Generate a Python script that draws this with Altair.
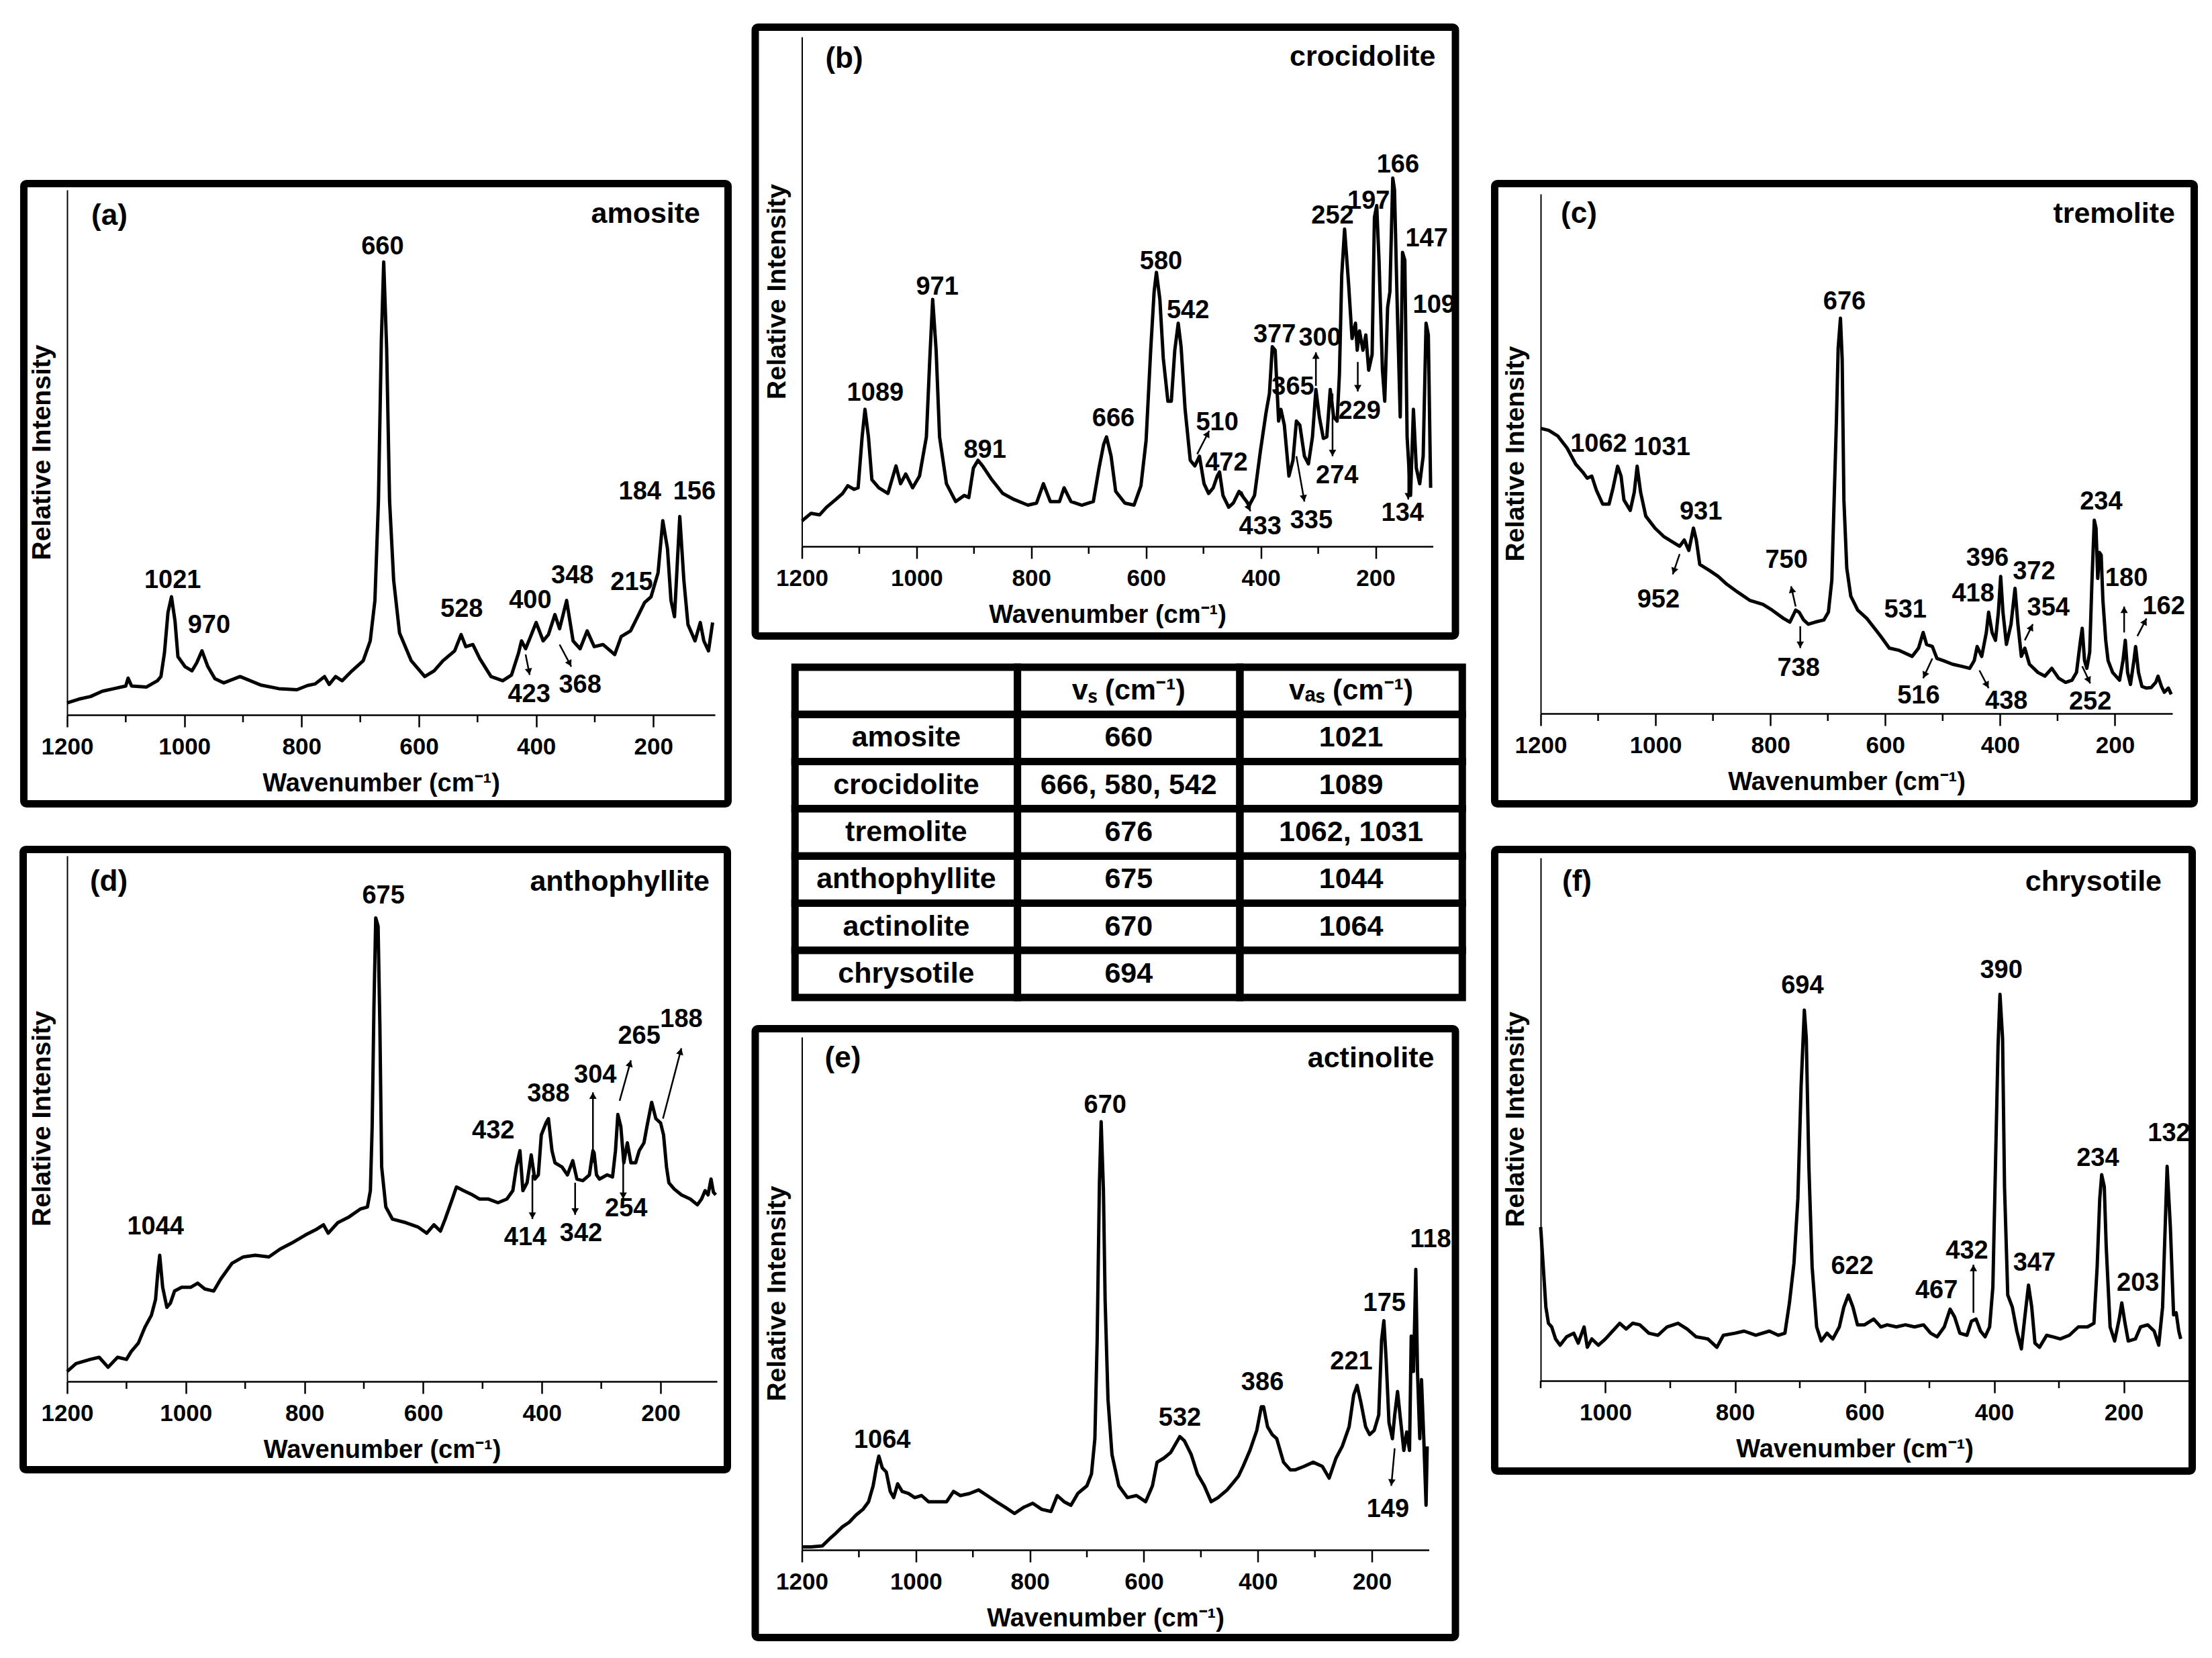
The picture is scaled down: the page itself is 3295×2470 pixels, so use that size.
import math
import altair as alt
import pandas as pd

FONT = "Liberation Sans, Arial, Helvetica, sans-serif"

# ---------------- spectra (wavenumber cm-1, relative intensity 0-100) ----------------
A_SPEC = [(1200,2.3),(1180,3.0),(1160,3.5),(1140,4.5),(1120,5.0),(1100,5.5),(1096,7.0),(1090,5.5),(1065,5.3),(1046,6.5),
          (1040,7.3),(1034,11.8),(1028,19.5),(1022,22.5),(1016,17.9),(1011,11.1),(999,9.2),(987,8.4),(979,9.9),(970,12.2),
          (960,9.2),(948,6.9),(933,6.1),(905,7.3),(870,5.7),(839,5.0),(808,4.8),(790,5.6),(777,5.9),(761,7.3),
          (753,5.8),(742,7.3),(731,6.5),(714,8.4),(695,10.3),(683,14.1),(675,21.8),(669,40.8),(664,71.4),(660,86.3),
          (655,69.8),(650,40.8),(643,25.6),(633,15.6),(613,10.3),(590,7.3),(574,8.4),(559,10.3),(539,12.2),(528,15.3),
          (520,13.0),(508,13.4),(496,10.7),(477,7.3),(457,6.5),(442,7.6),(430,11.8),(425,14.1),(418,12.6),(411,14.5),
          (400,17.6),(388,14.1),(379,15.3),(368,19.1),(360,16.4),(348,21.8),(337,14.1),(325,12.6),(313,16.0),(301,13.0),
          (286,13.4),(266,11.5),(255,14.9),(239,16.0),(227,18.7),(215,21.4),(204,22.5),(192,27.1),(184,37.0),(176,31.7),
          (170,21.8),(164,18.7),(159,29.4),(155,37.8),(148,25.6),(141,17.2),(129,14.1),(120,17.6),(114,14.1),(106,12.2),(99,17.6)]

B_SPEC = [(1200,5.0),(1184,6.5),(1169,6.2),(1157,7.7),(1141,9.2),(1129,10.4),(1120,11.9),(1109,11.2),(1102,11.5),(1095,21.5),
          (1090,26.9),(1084,21.5),(1078,13.1),(1066,11.5),(1050,10.4),(1036,15.8),(1028,12.3),(1019,14.2),(1007,11.5),(995,13.8),
          (983,21.5),(977,36.9),(972,48.5),(966,38.5),(960,21.5),(948,12.3),(932,8.8),(917,10.0),(909,9.6),(901,15.4),
          (893,16.9),(885,15.8),(869,13.1),(850,10.4),(830,9.2),(806,8.1),(791,8.5),(779,12.3),(767,8.8),(751,8.8),
          (743,11.5),(731,8.8),(712,8.1),(692,8.8),(682,15.4),(674,20.0),(669,21.5),(661,17.7),(653,10.8),(637,8.5),
          (621,8.1),(609,11.9),(600,20.8),(592,38.5),(586,50.0),(582,53.8),(576,48.5),(570,36.9),(562,28.5),(556,28.5),
          (550,38.5),(544,43.8),(539,39.2),(532,26.9),(523,16.9),(515,15.8),(507,17.7),(499,12.3),(491,10.4),(483,11.5),
          (476,13.8),(472,14.6),(466,10.0),(456,7.7),(448,8.5),(438,10.8),(430,9.6),(420,8.1),(411,10.0),(401,18.5),
          (391,26.2),(385,30.0),(380,39.2),(375,38.5),(369,24.6),(365,26.9),(359,23.8),(351,13.8),(344,16.9),(338,24.6),
          (332,23.8),(324,17.7),(317,16.2),(310,21.5),(304,30.8),(298,25.4),(291,21.2),(285,21.5),(279,30.8),(273,25.4),
          (267,24.6),(263,33.8),(259,53.1),(254,62.3),(247,51.5),(241,40.8),(235,43.8),(232,38.5),(228,42.3),(222,38.5),
          (217,41.5),(212,34.6),(206,37.7),(202,64.6),(198,66.9),(194,56.2),(188,34.6),(184,28.5),(179,46.9),(175,50.0),
          (170,72.3),(167,70.0),(162,46.2),(157,25.4),(153,57.7),(149,56.2),(145,21.5),(139,10.0),(134,26.9),(129,15.4),
          (123,12.3),(117,17.7),(112,43.8),(108,41.5),(104,11.5)]

C_SPEC = [(1200,54.9),(1186,54.5),(1170,53.4),(1154,51.1),(1139,48.0),(1127,46.5),(1119,45.3),(1111,45.7),(1103,43.0),(1092,40.3),
          (1081,40.3),(1074,43.4),(1066,47.6),(1060,45.7),(1055,41.1),(1044,39.1),(1037,42.6),(1032,47.6),(1026,42.6),(1017,38.0),
          (1001,35.7),(986,34.1),(970,33.0),(958,32.2),(950,33.4),(942,31.4),(934,35.7),(929,33.4),(923,28.7),(907,27.6),
          (891,26.4),(876,24.9),(856,23.3),(836,21.8),(813,21.0),(797,19.9),(777,18.3),(766,17.6),(756,19.9),(750,19.5),
          (742,18.0),(734,17.2),(722,17.6),(707,18.0),(699,19.5),(693,25.7),(689,41.1),(685,56.5),(682,70.3),(678,76.1),
          (675,68.2),(672,41.1),(667,28.0),(660,22.6),(648,19.9),(632,18.3),(608,14.9),(593,12.6),(577,12.2),(553,11.0),
          (542,12.6),(534,15.6),(528,13.3),(518,12.9),(510,10.6),(499,10.2),(483,9.5),(467,9.1),(453,8.7),(445,10.2),
          (440,12.9),(432,11.0),(424,15.6),(420,19.5),(414,15.6),(408,14.1),(403,19.5),(399,26.4),(395,19.5),(389,13.3),
          (381,17.2),(374,24.1),(369,17.2),(363,11.0),(357,12.6),(349,9.5),(334,7.9),(322,7.2),(310,8.7),(298,6.8),
          (286,6.0),(275,6.4),(267,7.9),(260,14.1),(257,16.4),(253,10.2),(249,8.7),(244,11.8),(240,25.7),(236,37.2),
          (233,35.7),(230,26.0),(227,31.0),(224,30.5),(221,21.8),(216,14.0),(212,10.2),(204,7.9),(192,6.4),(186,10.2),
          (182,14.1),(178,7.9),(173,5.6),(167,10.2),(164,12.9),(159,7.9),(153,5.2),(145,4.9),(137,5.0),(129,6.0),
          (125,7.2),(119,5.2),(114,4.1),(107,4.9),(102,3.7)]

D_SPEC = [(1200,1.9),(1185,3.4),(1161,4.2),(1146,4.6),(1131,2.7),(1115,4.6),(1100,4.2),(1092,5.7),(1080,7.3),(1069,10.3),
          (1058,12.6),(1051,15.6),(1047,21.0),(1044,24.0),(1039,17.9),(1032,14.1),(1026,14.9),(1019,17.2),(1007,17.9),(992,17.9),
          (980,18.7),(968,17.6),(953,17.2),(941,19.5),(922,22.5),(903,23.7),(883,24.0),(860,23.7),(841,25.2),(822,26.3),
          (798,27.9),(779,29.0),(768,29.8),(760,28.2),(744,30.2),(725,31.3),(706,32.8),(694,33.2),(689,36.3),(686,48.5),
          (683,71.4),(680,88.2),(676,86.6),(673,67.6),(670,40.8),(663,33.2),(652,30.9),(629,30.2),(609,29.4),(594,28.2),
          (582,29.8),(571,28.6),(563,30.9),(551,34.7),(544,37.0),(532,36.3),(517,35.5),(505,34.7),(490,34.7),(474,34.0),
          (459,34.7),(449,36.3),(443,40.8),(437,43.9),(432,36.3),(425,37.8),(418,43.1),(412,38.5),(406,39.3),(401,46.9),
          (393,49.2),(389,50.0),(383,43.9),(378,41.6),(366,40.8),(357,39.3),(348,42.0),(341,38.5),(331,38.2),(320,39.3),
          (314,43.9),(312,43.5),(308,39.3),(303,38.5),(290,39.3),(281,38.9),(276,43.9),(272,50.8),(267,48.5),(262,41.6),
          (256,45.4),(250,41.6),(242,41.6),(236,43.9),(228,45.4),(223,48.5),(215,53.1),(208,50.0),(200,49.2),(195,46.9),
          (190,40.8),(186,37.8),(177,36.6),(165,35.5),(150,34.7),(138,33.6),(131,34.7),(125,36.3),(120,35.5),(115,38.5),
          (111,36.0),(107,35.5)]

E_SPEC = [(1200,0.6),(1184,0.6),(1164,0.8),(1152,2.1),(1140,3.3),(1129,4.5),(1117,5.4),(1105,6.8),(1093,7.9),(1083,9.4),
          (1075,12.5),(1069,16.3),(1065,18.3),(1059,16.0),(1052,15.2),(1045,11.4),(1039,10.2),(1032,12.9),(1024,11.4),(1013,11.0),
          (1002,10.2),(990,10.6),(978,9.4),(962,9.4),(946,9.4),(934,11.4),(922,10.6),(906,11.0),(890,11.7),(875,10.6),
          (859,9.4),(843,8.3),(827,7.1),(811,8.3),(795,9.1),(779,7.9),(763,7.5),(752,10.6),(740,9.4),(728,8.7),
          (716,11.0),(700,12.5),(692,14.8),(686,21.7),(682,40.9),(678,71.6),(675,83.5),(671,70.1),(668,48.6),(663,29.4),
          (656,18.6),(644,12.5),(629,10.2),(613,10.6),(597,9.4),(585,12.5),(577,17.1),(565,17.9),(553,19.0),(537,22.1),
          (529,21.3),(517,18.6),(506,14.8),(494,12.5),(482,9.4),(470,10.2),(454,11.7),(442,13.3),(434,14.4),(426,16.3),
          (414,19.4),(402,23.3),(394,27.9),(390,27.9),(383,24.0),(375,22.5),(367,21.7),(355,17.1),(343,15.6),(335,15.6),
          (319,16.3),(303,17.1),(287,16.3),(275,14.0),(263,17.9),(252,20.2),(240,24.0),(232,30.2),(226,32.1),(219,28.6),
          (211,24.0),(204,22.5),(196,23.3),(188,26.3),(183,40.9),(179,44.7),(175,37.1),(170,24.8),(164,21.7),(160,26.3),
          (155,30.9),(150,25.6),(144,19.4),(139,23.0),(134,19.4),(131,41.7),(127,34.8),(123,54.7),(120,34.8),(116,21.7),
          (113,33.2),(109,21.7),(105,8.7),(103,20.2)]

F_SPEC = [(1100,29.4),(1096,21.8),(1092,14.1),(1088,11.0),(1083,10.3),(1077,8.0),(1070,6.8),(1060,8.4),(1049,9.1),(1042,7.2),
          (1033,10.3),(1028,6.4),(1021,8.0),(1011,6.8),(1000,8.0),(989,9.5),(978,11.0),(968,9.9),(958,11.0),(947,10.7),
          (933,9.1),(919,8.7),(905,10.3),(888,11.0),(874,9.9),(860,8.4),(842,8.0),(828,6.4),(818,8.7),(800,9.1),
          (786,9.5),(768,8.7),(747,9.5),(733,8.7),(723,9.1),(716,14.9),(709,22.5),(703,34.8),(698,56.3),(693,70.9),
          (690,65.5),(686,41.0),(681,21.8),(674,10.3),(667,7.6),(658,9.1),(649,8.0),(639,10.3),(632,14.1),(625,16.4),
          (618,14.1),(611,10.7),(600,10.7),(586,11.8),(575,10.3),(565,10.7),(551,10.3),(537,10.7),(523,10.3),(509,10.7),
          (498,9.1),(488,8.4),(477,10.3),(468,13.7),(461,12.2),(453,9.1),(442,8.7),(435,11.4),(428,11.8),(421,9.5),
          (414,8.4),(407,10.3),(402,17.9),(398,41.0),(394,64.0),(391,73.9),(387,65.5),(384,37.1),(379,16.4),(372,14.1),
          (365,9.5),(358,6.1),(353,11.8),(347,18.3),(342,14.1),(337,7.2),(330,6.4),(319,8.7),(309,8.4),(298,8.0),
          (284,8.7),(270,10.3),(256,10.3),(246,11.0),(241,21.8),(237,34.8),(234,39.4),(230,37.1),(227,25.6),(221,10.3),
          (214,7.6),(207,11.8),(203,14.9),(198,11.0),(193,7.6),(182,8.0),(174,10.3),(163,10.7),(153,9.5),(146,6.8),
          (140,14.1),(135,33.3),(133,41.0),(128,29.4),(123,12.6),(119,13.0),(115,9.5),(112,8.0)]

# ---------------- peak labels: (text, wavenumber of label centre, intensity of label centre) ----------------
A_LABELS = [("660",662,89.1),("1021",1020,25.6),("970",958,17.0),("528",527,20.1),("400",410,21.8),("348",338,26.5),
            ("215",237,25.2),("184",223,42.5),("156",130,42.5),("423",412,3.8),("368",325,5.6)]
B_LABELS = [("1089",1072,30.0),("971",964,50.9),("891",881,18.8),("666",657,25.0),("580",574,55.9),("542",527,46.2),
            ("510",476,24.2),("472",460,16.3),("433",401,3.8),("377",376,41.5),("365",344,31.2),("300",297,40.8),
            ("335",312,5.0),("274",267,13.8),("252",275,64.8),("197",212,67.7),("166",161,74.8),("147",111,60.4),
            ("109",98,47.3),("229",228,26.5),("134",153,6.5)]
C_LABELS = [("676",671,79.2),("1062",1099,51.8),("1031",989,51.1),("931",921,38.8),("952",995,21.8),("750",772,29.5),
            ("738",751,8.6),("531",565,19.9),("516",542,3.3),("418",447,23.0),("396",422,29.9),("372",341,27.3),
            ("354",316,20.3),("438",389,2.3),("234",224,40.7),("180",180,26.0),("162",115,20.6),("252",243,2.2)]
D_LABELS = [("675",667,92.4),("1044",1051,29.4),("432",482,47.6),("388",389,54.6),("304",310,58.2),("265",236,65.6),
            ("188",165,68.9),("414",428,27.3),("342",334,28.1),("254",258,32.8)]
E_LABELS = [("670",668,86.6),("1064",1059,21.3),("532",537,25.6),("386",392,32.6),("221",236,36.7),("175",178,48.0),
            ("118",97,60.5),("149",172,7.9)]
F_LABELS = [("694",696,75.5),("390",389,78.4),("622",619,21.8),("467",489,17.2),("432",442,24.8),("347",338,22.5),
            ("234",240,42.5),("203",178,18.6),("132",130,47.2)]

# ---------------- arrows: (from wn, from I, to wn, to I), head at "to" ----------------
A_ARROWS = [(418,11.5,411,7.6),(360,13.4,340,9.2)]
B_ARROWS = [(511,18.1,490,22.7),(434,10.8,418,6.9),(304,31.5,304,38.1),(231,36.2,231,30.4),
            (275,30.0,275,17.7),(338,17.7,324,8.8),(143,17.7,143,9.2)]
C_ARROWS = [(958,30.7,970,26.8),(756,20.6,764,24.5),(748,16.8,748,12.6),(518,10.6,534,6.8),(436,8.3,420,4.9),
            (357,14.1,343,17.2),(257,9.1,243,5.8),(184,15.6,184,20.6),(161,14.9,145,18.3)]
D_ARROWS = [(416,39.3,416,30.9),(344,37.8,344,31.7),(314,41.6,314,55.0),(269,53.4,250,61.1),
            (263,43.9,263,34.7),(196,50.0,165,63.4)]
E_ARROWS = [(160,19.8,166,12.5)]
F_ARROWS = [(432,13.0,432,22.2)]

# ---------------- axis ticks ----------------
MAJOR_1200 = [1200, 1000, 800, 600, 400, 200]
MINOR_1200 = [1100, 900, 700, 500, 300]
MAJOR_1100 = [1000, 800, 600, 400, 200]
MINOR_1100 = [1100, 900, 700, 500, 300]

# ---------------- table ----------------
T_NAMES = ["", "amosite", "crocidolite", "tremolite", "anthophyllite", "actinolite", "chrysotile"]
T_VS = ["vₛ (cm⁻¹)", "660", "666, 580, 542", "676", "675", "670", "694"]
T_VAS = ["vₐₛ (cm⁻¹)", "1021", "1089", "1062, 1031", "1044", "1064", ""]

ONE = pd.DataFrame({"k": [0]})


def panel(spec, labels, arrows, dom, major, minor, W, H, L, R, T, B,
          tag, tagx, tagy, name, namex, namey):
    xs = alt.Scale(domain=dom, reverse=True, nice=False, zero=False)
    ys = alt.Scale(domain=[0, 100], nice=False, zero=False)
    xax = alt.Axis(
        values=major, format="d", labelFlush=False, labelOverlap=False,
        labelFont=FONT, labelFontSize=35, labelFontWeight="bold", labelColor="black",
        labelBaseline="middle", labelPadding=29,
        tickSize=18, tickWidth=2.5, tickColor="black",
        domainColor="black", domainWidth=2.5, grid=False,
        title="Wavenumber (cm⁻¹)", titleFont=FONT, titleFontSize=38, titleFontWeight="bold",
        titleColor="black", titleY=102, titleX=W / 2 - 15, titleBaseline="middle")
    yax = alt.Axis(title=None, labels=False, ticks=False, grid=False,
                   domainColor="black", domainWidth=2)

    def X(f):
        return alt.X(f, scale=xs, axis=xax, title="Wavenumber (cm⁻¹)")

    def Y(f):
        return alt.Y(f, scale=ys, axis=yax, title=None)

    sdf = pd.DataFrame(spec, columns=["wn", "I"])
    line = alt.Chart(sdf).mark_line(color="black", strokeWidth=5, strokeJoin="round").encode(
        x=X("wn:Q"), y=Y("I:Q"))

    mdf = pd.DataFrame({"wn": minor})
    mt = alt.Chart(mdf).mark_rule(color="black", strokeWidth=2.5).encode(
        x=X("wn:Q"), y=alt.value(H), y2=alt.value(H + 11))

    ldf = pd.DataFrame(labels, columns=["t", "wn", "I"])
    lt = alt.Chart(ldf).mark_text(font=FONT, fontSize=38, fontWeight="bold", color="black",
                                  align="center", baseline="middle").encode(
        x=X("wn:Q"), y=Y("I:Q"), text="t:N")

    span = dom[1] - dom[0]
    kx = W / span
    ky = H / 100.0
    rows = []
    for (x1, y1, x2, y2) in arrows:
        dx = -(x2 - x1) * kx
        dy = -(y2 - y1) * ky
        n = math.hypot(dx, dy) or 1.0
        ux, uy = dx / n, dy / n
        ang = math.degrees(math.atan2(dx, -dy)) % 360
        hx = x2 + 5 * ux / kx
        hy = y2 + 5 * uy / ky
        rows.append({"x1": x1, "y1": y1, "x2": x2, "y2": y2, "hx": hx, "hy": hy, "ang": ang})
    adf = pd.DataFrame(rows)
    ar = alt.Chart(adf).mark_rule(color="black", strokeWidth=2.5).encode(
        x=X("x1:Q"), x2="x2:Q", y=Y("y1:Q"), y2="y2:Q")
    ah = alt.Chart(adf).mark_point(shape="triangle-up", filled=True, size=120, color="black",
                                   opacity=1, strokeWidth=0).encode(
        x=X("hx:Q"), y=Y("hy:Q"), angle=alt.Angle("ang:Q", scale=None))

    sw = 11
    fr = alt.Chart(ONE).mark_rect(fill="white", fillOpacity=0, stroke="black", strokeWidth=sw,
                                  cornerRadius=4).encode(
        x=alt.value(-L + sw / 2), x2=alt.value(W + R - sw / 2),
        y=alt.value(-T + sw / 2), y2=alt.value(H + B - sw / 2))
    tg = alt.Chart(ONE).mark_text(text=tag, font=FONT, fontSize=44, fontWeight="bold", color="black",
                                  align="center", baseline="middle").encode(
        x=alt.value(tagx), y=alt.value(tagy))
    nm = alt.Chart(ONE).mark_text(text=name, font=FONT, fontSize=43, fontWeight="bold", color="black",
                                  align="right", baseline="middle").encode(
        x=alt.value(namex), y=alt.value(namey))
    ri = alt.Chart(ONE).mark_text(text="Relative Intensity", font=FONT, fontSize=39, fontWeight="bold",
                                  color="black", angle=270, align="center", baseline="middle").encode(
        x=alt.value(-37), y=alt.value(H / 2))
    return alt.layer(line, mt, ar, ah, lt, tg, nm, ri, fr).properties(width=W, height=H)


def spacer(h):
    return alt.Chart(ONE).mark_point(size=1, opacity=0).encode(
        x=alt.value(0), y=alt.value(0)).properties(width=10, height=h)


pa = panel(A_SPEC, A_LABELS, A_ARROWS, [95, 1200], MAJOR_1200, MINOR_1200,
           965, 782, 70, 25, 15, 138, "(a)", 63, 39, "amosite", 965 - 22, 36)
pb = panel(B_SPEC, B_LABELS, B_ARROWS, [100, 1200], MAJOR_1200, MINOR_1200,
           940, 759, 75, 39, 20, 139, "(b)", 63, 33, "crocidolite", 940 + 4, 30)
pc = panel(C_SPEC, C_LABELS, C_ARROWS, [100, 1200], MAJOR_1200, MINOR_1200,
           941, 774, 74, 38, 21, 140, "(c)", 57, 30, "tremolite", 941 + 4, 30)
pdn = panel(D_SPEC, D_LABELS, D_ARROWS, [105, 1200], MAJOR_1200, MINOR_1200,
            968, 783, 71, 21, 15, 137, "(d)", 62, 39, "anthophyllite", 968 - 11, 39)
pe = panel(E_SPEC, E_LABELS, E_ARROWS, [100, 1200], MAJOR_1200, MINOR_1200,
           934, 764, 75, 45, 18, 136, "(e)", 61, 32, "actinolite", 934 + 8, 32)
pf = panel(F_SPEC, F_LABELS, F_ARROWS, [100, 1100], MAJOR_1100, MINOR_1100,
           965, 779, 74, 11, 18, 140, "(f)", 54, 36, "chrysotile", 965 - 40, 36)

# table
trows = []
for r in range(len(T_NAMES)):
    for c, col in enumerate([T_NAMES, T_VS, T_VAS]):
        trows.append({"r": r, "c": c, "t": col[r]})
tdf = pd.DataFrame(trows)
band = alt.Scale(paddingInner=0, paddingOuter=0)
cells = alt.Chart(tdf).mark_rect(fill="white", fillOpacity=0, stroke="black", strokeWidth=11).encode(
    x=alt.X("c:O", scale=band, axis=None), y=alt.Y("r:O", scale=band, axis=None))
ttxt = alt.Chart(tdf).mark_text(font=FONT, fontSize=43, fontWeight="bold", color="black",
                                align="center", baseline="middle").encode(
    x=alt.X("c:O", scale=band, axis=None), y=alt.Y("r:O", scale=band, axis=None), text="t:N")
table = alt.layer(cells, ttxt).properties(width=994, height=492)

left = alt.vconcat(spacer(156), pa, pdn, spacing=57)
mid = alt.vconcat(pb, table, pe, spacing=35, center=True)
right = alt.vconcat(spacer(156), pc, pf, spacing=57)

chart = alt.hconcat(alt.hconcat(left, mid, spacing=29), right, spacing=37).properties(
    padding={"left": 21, "top": 27, "right": 5, "bottom": 5}, background="white"
).configure_view(strokeWidth=0)

chart.save("out.html", embed_options={"renderer": "svg", "actions": False})
